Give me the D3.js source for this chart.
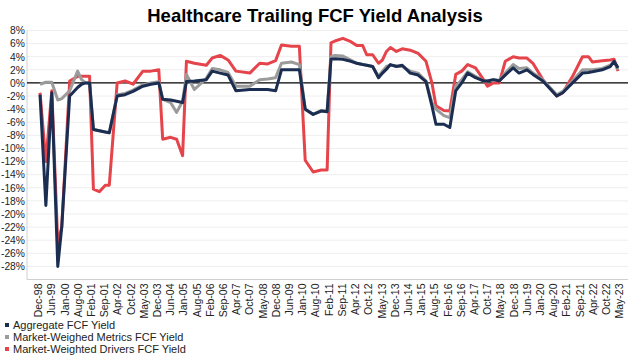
<!DOCTYPE html>
<html>
<head>
<meta charset="utf-8">
<script src="https://cdn.jsdelivr.net/npm/d3@7"></script>
<style>
  html, body { margin: 0; padding: 0; background: #fff; }
  svg { display: block; font-family: "Liberation Sans", Arial, sans-serif; }
</style>
</head>
<body>
<svg id="chart" width="630" height="357"></svg>
<script>
// ---- Data (values in %) ----
const dates = ["1999-01","1999-04","1999-07","1999-10","1999-12","2000-04","2000-08","2000-10","2000-12","2001-02",
"2001-04","2001-07","2001-10","2001-12","2002-04","2002-08","2002-12","2003-05","2003-09","2004-01",
"2004-03","2004-07","2004-10","2005-01","2005-03","2005-07","2006-01","2006-04","2006-08","2006-12",
"2007-04","2007-11","2008-04","2008-08","2008-12","2009-03","2009-08","2009-12","2010-03","2010-07",
"2010-11","2011-02","2011-04","2011-06","2011-10","2012-02","2012-05","2012-08","2012-10","2013-01",
"2013-04","2013-06","2013-08","2013-10","2014-01","2014-04","2014-08","2014-12","2015-04","2015-07",
"2015-09","2016-01","2016-04","2016-07","2016-10","2017-01","2017-05","2017-09","2017-11","2018-02",
"2018-05","2018-08","2018-12","2019-03","2019-07","2019-10","2020-03","2020-10","2021-01","2021-06",
"2021-11","2022-02","2022-04","2022-09","2023-01","2023-03","2023-05"];

const aggregate = [-1.8,-18.7,-1.5,-28,-22,-2,-0.7,-0.2,0,0,
-7.1,-7.3,-7.5,-7.6,-2,-1.8,-1.3,-0.5,-0.2,0,
-2.5,-2.6,-2.8,-3,0.2,0.3,0.5,1.8,1.5,1.2,
-1.2,-1,-1,-1,-1.2,2,2,2,-4,-4.8,
-4.3,-4.4,3.6,3.7,3.6,3.3,3.0,2.8,2.7,2.5,
0.8,1.5,2.1,2.8,2.5,2.7,1.5,1.2,0.2,-3.5,
-6.3,-6.3,-6.8,-1.2,0,1.5,0.8,0.3,0.3,0.5,
0.3,1.2,2.3,1.5,2.0,1.3,0.3,-2,-1.5,0,
1.5,1.6,1.7,2.0,2.5,3.3,2.3];

const metrics = [-0.2,0.1,0.1,-2.6,-2.4,-1.2,1.8,0.5,0,0,
-7.1,-7.3,-7.5,-7.6,-1.8,-1.6,-1.1,-0.3,0,0.2,
-2.5,-3,-4.5,-2.8,1.3,-1.0,0.7,2.2,2.0,1.6,
-0.5,-0.5,0.5,0.6,0.8,3,3.2,2.8,-4,-4.8,
-4.2,-4.3,4.0,4.2,4.1,3.5,3.0,2.8,2.7,2.5,
1.0,1.8,2.5,2.7,2.6,2.5,1.8,1.5,0.3,-3.0,
-4.0,-5.0,-5.3,-0.5,0.5,1.7,1.0,0.3,0.3,0.5,
0.4,1.5,2.8,2.2,2.3,1.5,0.5,-1.8,-1.3,0.3,
2.0,2.0,2.0,2.2,2.7,3.3,2.0];

const drivers = [-1.5,-12,-1.2,-24.5,-22,0.3,1,1,1,1,
-16.2,-16.6,-15.6,-15.6,0,0.3,-0.2,1.8,1.8,2,
-8.6,-8.3,-8.6,-11.1,3.3,3.0,2.7,3.8,4.2,3.5,
1.8,1.5,3,2.9,3.4,5.8,5.6,5.6,-11.8,-13.6,
-13.3,-13.3,6.1,6.4,6.8,6.3,5.7,5.7,4.3,4.3,
3.0,3.5,4.8,5.4,4.8,5.2,5.0,4.5,3.3,0,
-3.5,-4.2,-4.3,1.3,1.8,2.8,2.3,0.5,-0.5,0,
0,3.3,4.0,3.8,3.8,3.0,0.5,-2,-1.5,1.0,
4.0,4.0,3.2,3.4,3.5,3.6,1.8];

const yTicks = [8,6,4,2,0,-2,-4,-6,-8,-10,-12,-14,-16,-18,-20,-22,-24,-26,-28];

const xTickLabels = ["Dec-98","Jun-99","Jan-00","Aug-00","Feb-01","Sep-01","Apr-02","Oct-02","May-03","Dec-03",
"Jun-04","Jan-05","Aug-05","Feb-06","Sep-06","Apr-07","Oct-07","May-08","Dec-08","Jun-09",
"Jan-10","Aug-10","Feb-11","Sep-11","Apr-12","Oct-12","May-13","Dec-13","Jun-14","Jan-15",
"Aug-15","Feb-16","Sep-16","Apr-17","Oct-17","May-18","Dec-18","Jun-19","Jan-20","Aug-20",
"Feb-21","Sep-21","Apr-22","Oct-22","May-23"];

const seriesNames = ["Aggregate FCF Yield","Market-Weighed Metrics FCF Yield","Market-Weighted Drivers FCF Yield"];
const seriesColors = ["#1b2e52","#9b9b9b","#e5444b"];

// ---- Layout ----
const svg = d3.select("#chart");
const plotLeft = 27, plotRight = 628, plotTop = 30.5, plotBottom = 279.5;
const parse = d3.utcParse("%Y-%m");
const axisStart = new Date(Date.UTC(1998, 11, 1));
const tickStepDays = 203;
const tickDates = xTickLabels.map((_, i) => d3.utcDay.offset(axisStart, i * tickStepDays));

const x = d3.scaleUtc()
  .domain([axisStart, tickDates[tickDates.length - 1]])
  .range([38, 619]);
const y = d3.scaleLinear().domain([-30, 8]).range([plotBottom, plotTop]);

// Title
svg.append("text")
  .attr("x", 315).attr("y", 22)
  .attr("text-anchor", "middle")
  .attr("font-size", "18.5px").attr("font-weight", "bold")
  .attr("fill", "#000")
  .text("Healthcare Trailing FCF Yield Analysis");

// Gridlines
svg.append("g").selectAll("line").data(yTicks.filter(d => d !== 0)).join("line")
  .attr("x1", plotLeft).attr("x2", plotRight)
  .attr("y1", d => y(d)).attr("y2", d => y(d))
  .attr("stroke", "#eeeeee").attr("stroke-width", 1);

// Y axis
const yAxis = d3.axisLeft(y).tickValues(yTicks).tickSize(0).tickPadding(2)
  .tickFormat(d => d + "%");
const gy = svg.append("g").attr("transform", `translate(${plotLeft},0)`).call(yAxis);
gy.select(".domain").attr("stroke", "#d0d0d0").attr("d", `M0,${plotTop}V${plotBottom}`);
gy.selectAll("text").attr("font-size", "10.3px").attr("fill", "#222")
  .attr("font-family", "Liberation Sans, Arial, sans-serif");

// X axis at bottom
const xAxis = d3.axisBottom(x).tickValues(tickDates).tickSize(0).tickPadding(4)
  .tickFormat((d, i) => xTickLabels[i]);
const gx = svg.append("g").attr("transform", `translate(0,${plotBottom})`).call(xAxis);
gx.select(".domain").attr("stroke", "#d0d0d0").attr("d", `M${plotLeft},0H${plotRight}`);
gx.selectAll("text")
  .attr("font-size", "10.5px").attr("fill", "#222")
  .attr("font-family", "Liberation Sans, Arial, sans-serif")
  .attr("transform", "rotate(-90)")
  .attr("text-anchor", "end")
  .attr("dy", "0.35em")
  .attr("y", 0).attr("x", -4);

// Zero line
svg.append("line")
  .attr("x1", plotLeft).attr("x2", plotRight)
  .attr("y1", y(0)).attr("y2", y(0))
  .attr("stroke", "#000").attr("stroke-width", 1.2);

// Lines
const parsedDates = dates.map(parse);
const allSeries = [aggregate, metrics, drivers];
const line = d3.line()
  .x((d, i) => x(parsedDates[i]))
  .y(d => y(d))
  .curve(d3.curveLinear);

[2, 1, 0].forEach(k => {
  svg.append("path")
    .datum(allSeries[k])
    .attr("fill", "none")
    .attr("stroke", seriesColors[k])
    .attr("stroke-width", 3)
    .attr("stroke-linejoin", "round")
    .attr("d", line);
});

// Legend
const legend = svg.append("g");
seriesNames.forEach((name, i) => {
  const ly = 325 + i * 12;
  legend.append("rect")
    .attr("x", 5).attr("y", ly - 2).attr("width", 4).attr("height", 4)
    .attr("fill", seriesColors[i]);
  legend.append("text")
    .attr("x", 13).attr("y", ly).attr("dy", "0.35em")
    .attr("font-size", "11px").attr("fill", "#222")
    .text(name);
});
</script>
</body>
</html>
